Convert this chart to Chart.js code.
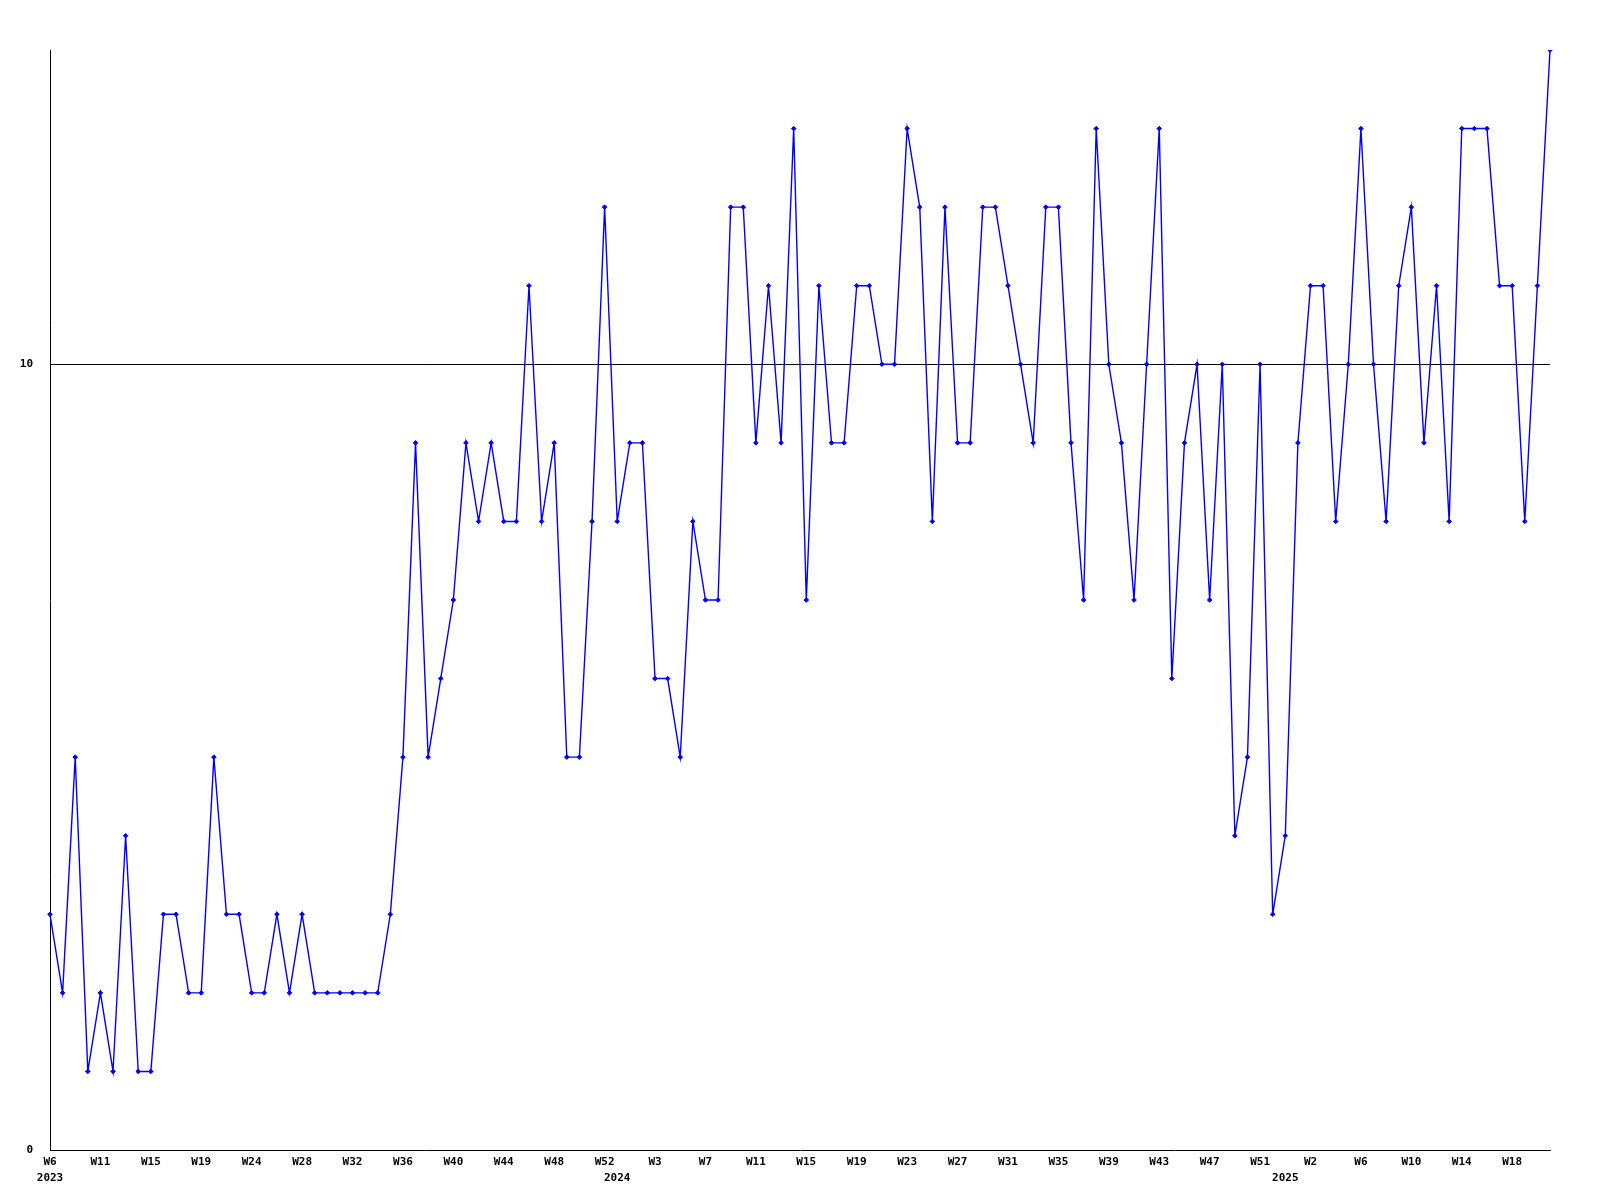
<!DOCTYPE html>
<html>
<head>
<meta charset="utf-8">
<script src="https://cdn.jsdelivr.net/npm/chart.js@4/dist/chart.umd.min.js"></script>
<style>
  html, body { margin: 0; padding: 0; background: #ffffff; }
  #wrap { width: 1600px; height: 1200px; }
</style>
</head>
<body>
<div id="wrap"><canvas id="c" width="1600" height="1200"></canvas></div>
<script>
// Weekly values, 2023 W6 .. 2025 W21 (120 points)
const values = [
  3, 2, 5, 1, 2, 1, 4, 1, 1, 3,
  3, 2, 2, 5, 3, 3, 2, 2, 3, 2,
  3, 2, 2, 2, 2, 2, 2, 3, 5, 9,
  5, 6, 7, 9, 8, 9, 8, 8, 11, 8,
  9, 5, 5, 8, 12, 8, 9, 9, 6, 6,
  5, 8, 7, 7, 12, 12, 9, 11, 9, 13,
  7, 11, 9, 9, 11, 11, 10, 10, 13, 12,
  8, 12, 9, 9, 12, 12, 11, 10, 9, 12,
  12, 9, 7, 13, 10, 9, 7, 10, 13, 6,
  9, 10, 7, 10, 4, 5, 10, 3, 4, 9,
  11, 11, 8, 10, 13, 10, 8, 11, 12, 9,
  11, 8, 13, 13, 13, 11, 11, 8, 11, 14
];

// Week tick labels shown every 4th point
const weekTicks = [
  "W6", "W11", "W15", "W19", "W24", "W28", "W32", "W36", "W40", "W44",
  "W48", "W52", "W3", "W7", "W11", "W15", "W19", "W23", "W27", "W31",
  "W35", "W39", "W43", "W47", "W51", "W2", "W6", "W10", "W14", "W18"
];
const weekTickStep = 4;

// Year labels and the point index where each year starts
const yearLabels = ["2023", "2024", "2025"];
const yearIndex = [0, 45, 98];

const categories = values.map((_, i) => String(i));

const FONT = { family: "'DejaVu Sans Mono', 'Liberation Mono', monospace", size: 11, weight: 'bold' };

new Chart(document.getElementById('c'), {
  type: 'line',
  data: {
    labels: categories,
    datasets: [{
      data: values,
      xAxisID: 'x',
      yAxisID: 'y',
      borderColor: '#0000ff',
      backgroundColor: '#0000ff',
      borderWidth: 1.4,
      pointStyle: 'rectRot',
      pointRadius: 2.3,
      pointBorderWidth: 1,
      pointBackgroundColor: '#0000ff',
      pointBorderColor: '#0000ff',
      tension: 0,
      fill: false
    }]
  },
  options: {
    responsive: false,
    animation: false,
    events: [],
    layout: { padding: { top: 50, right: 50, left: 0, bottom: 0 } },
    plugins: { legend: { display: false }, tooltip: { enabled: false } },
    scales: {
      x: {
        type: 'category',
        position: 'bottom',
        offset: false,
        grid: { display: false, drawTicks: false },
        border: { display: true, color: '#000000', width: 1 },
        ticks: {
          autoSkip: false,
          maxRotation: 0,
          minRotation: 0,
          padding: 6,
          color: '#000000',
          font: FONT,
          callback: (v, i) => (i % weekTickStep === 0 ? (weekTicks[i / weekTickStep] || '') : '')
        },
        afterFit: (s) => { s.height = 20; }
      },
      x2: {
        type: 'category',
        position: 'bottom',
        offset: false,
        grid: { display: false, drawTicks: false },
        border: { display: false },
        ticks: {
          autoSkip: false,
          maxRotation: 0,
          minRotation: 0,
          padding: 2,
          color: '#000000',
          font: FONT,
          callback: (v, i) => { const k = yearIndex.indexOf(i); return k >= 0 ? yearLabels[k] : ''; }
        },
        afterFit: (s) => { s.height = 30; }
      },
      y: {
        type: 'linear',
        position: 'left',
        min: 0,
        max: 14,
        grid: {
          drawTicks: false,
          color: (ctx) => (ctx.tick && ctx.tick.value === 10 ? '#000000' : 'rgba(0,0,0,0)'),
          lineWidth: 1
        },
        border: { display: true, color: '#000000', width: 1 },
        ticks: {
          stepSize: 10,
          padding: 17,
          color: '#000000',
          font: FONT,
          callback: (v) => (v === 0 || v === 10 ? String(v) : '')
        },
        afterFit: (s) => { s.width = 50; }
      }
    }
  }
});
</script>
</body>
</html>
